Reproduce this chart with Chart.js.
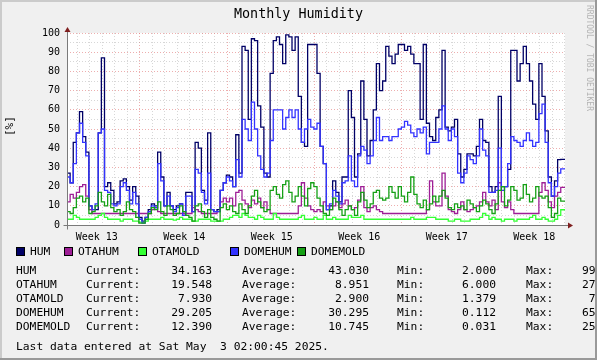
<!DOCTYPE html>
<html><head><meta charset="utf-8"><title>Monthly Humidity</title>
<script src="https://cdn.jsdelivr.net/npm/chart.js@4.4.1/dist/chart.umd.min.js"></script>
<style>
html,body{margin:0;padding:0;background:#f0f0f0;}
#root{position:relative;width:597px;height:360px;overflow:hidden;background:#f0f0f0;font-family:'DejaVu Sans Mono',monospace;color:#000;}
#c{position:absolute;left:0;top:0;}
.a{position:absolute;white-space:pre;}
.t{position:absolute;white-space:pre;font-size:11.3px;line-height:14px;}
.r{text-align:right;}
.sq{position:absolute;width:7px;height:7px;border:1px solid #000;}
.bd{position:absolute;}
</style></head>
<body><div id="root">
<canvas id="c" width="597" height="250"></canvas>
<div class="a" id="title" style="left:0;top:6px;width:597px;text-align:center;font-size:13.4px;line-height:16px;">Monthly Humidity</div>
<div class="a" style="left:2px;top:120px;width:16px;height:16px;font-size:11px;line-height:16px;transform:rotate(-90deg);text-align:center;">[%]</div>
<div class="a" style="left:535px;top:54px;width:108px;height:10px;font-size:8px;line-height:10px;color:#b4b4b4;transform:rotate(90deg);transform-origin:50% 50%;">RRDTOOL / TOBI OETIKER</div>
<div id="legend"></div>
<div class="bd" style="left:0;top:0;width:597px;height:2px;background:#cbcbcb;"></div>
<div class="bd" style="left:0;top:0;width:2px;height:360px;background:#cbcbcb;"></div>
<div class="bd" style="left:595px;top:0;width:2px;height:360px;background:#999;"></div>
<div class="bd" style="left:0;top:358px;width:597px;height:2px;background:#999;"></div>
</div>
<script>
// ---- data (6-hour steps, starting at left edge of graph) ----
const HUM = [
25,27,22,43,48,59,46,38,10,8,
8,48,87,20,22,18,11,12,23,24,
20,13,20,15,4,2,4,8,11,10,
38,25,10,17,10,8,10,11,6,17,
17,7,43,40,18,13,48,8,7,8,
18,22,26,25,20,47,27,93,91,55,
97,96,62,51,27,25,79,96,98,94,
84,99,98,91,98,67,43,41,94,94,
94,79,41,32,8,10,23,17,12,25,
25,70,56,25,37,75,55,36,44,60,
84,70,75,93,88,84,89,94,94,91,
93,89,84,84,55,94,53,46,44,56,
60,91,51,49,51,55,37,25,29,37,
37,36,41,55,44,43,20,17,20,67,
20,20,29,91,91,75,84,93,84,75,
63,55,84,67,49,25,15,23,34,34.163];
const OTAHUM = [
9,12,16,14,17,20,21,15,8,6,
6,6,6,6,6,6,6,6,6,6,
6,6,6,6,6,6,6,6,8,9,
7,6,6,6,6,6,6,6,6,6,
6,9,8,7,6,6,6,6,6,7,
12,14,12,14,10,17,18,13,11,9,
13,11,14,9,12,8,6,6,6,6,
6,6,6,6,6,10,22,14,10,8,
7,8,7,12,10,8,10,12,9,11,
13,10,8,9,13,20,9,7,9,10,
8,7,6,6,6,6,6,6,6,6,
6,6,6,6,6,6,8,23,12,10,
10,27,15,8,7,6,8,12,8,7,
8,9,10,12,17,12,10,13,8,22,
12,9,12,8,6,6,6,6,6,6,
6,6,17,22,18,12,9,15,17,19.548];
const OTAMOLD = [
4,3,3,5,4,3,3,3,3,3,
4,5,6,4,3,3,3,3,2,3,
3,3,2,2,1.5,1.4,2,3,3,3,
3,4,3,3,3,2.5,3,4,3,3,
3,2,2,3,3,3,3,2,2,2,
2,3,3,4,5,5,4,6,5,4,
4,3,5,4,3,3,3,6,4,3,
3,3,3,3,3,4,5,3,3,3,
4,3,3,5,3,3,4,3,3,3,
3,5,4,4,4,5,3,3,3,3,
3,3,3,3,3,3,3,3,3,3,
3,4,3,3,3,3,4,4,4,3,
3,3,3,2,2,3,3,2,2,2,
3,3,3,4,6,5,3,4,3,3,
2,3,3,3,2,3,3,3,3,4,
5,3,3,4,3,2,2,3,5,7.93];
const DOMEHUM = [
25,25,22,32,48,53,43,36,10,8,
11,48,50,18,17,11,10,11,20,22,
18,11,17,11,3,1,4,7,10,9,
32,23,10,15,10,7,9,11,5,15,
15,7,29,27,17,11,27,8,7,7,
18,22,25,23,20,34,25,55,50,44,
64,50,36,29,25,27,44,60,60,60,
50,56,60,56,60,50,43,50,55,51,
50,53,41,32,8,11,18,15,11,22,
23,36,23,20,36,41,39,32,36,44,
56,44,46,46,44,46,46,50,51,54,
52,48,46,50,48,51,37,43,43,43,
50,62,50,44,50,46,27,22,27,36,
34,32,36,50,39,36,17,17,18,40,
18,20,32,46,44,43,41,44,48,44,
41,43,58,63,43,22,15,20,27,29.205];
const DOMEMOLD = [
10,7,6,9,14,15,12,14,6,7,
10,17,12,10,16,9,7,8,5,7,
12,8,7,4,1,1,3,6,9,8,
12,7,5,10,8,5,6,10,7,5,
4,2,10,11,7,4,8,4,3,2,
9,11,8,10,7,6,11,8,6,10,
15,18,12,9,7,8,18,20,16,14,
21,23,17,12,15,20,15,10,19,22,
20,14,10,6,5,8,14,12,8,5,
8,10,8,5,12,17,13,9,11,17,
18,14,13,14,20,17,14,20,15,12,
17,25,16,11,9,13,8,11,15,12,
15,18,14,9,8,11,9,10,8,13,
11,9,7,10,13,11,8,6,11,18,
20,10,13,20,18,13,14,21,16,12,
14,20,15,14,15,9,4,6,14,12.39];

const SERIES_NAMES = ['HUM','OTAHUM','OTAMOLD','DOMEHUM','DOMEMOLD'];
const CURRENT = ['34.163','19.548','7.930','29.205','12.390'];
const AVERAGE = ['43.030','8.951','2.900','30.295','10.745'];
const MINIMUM = ['2.000','6.000','1.379','0.112','0.031'];
const MAXIMUM = ['99','27',' 7','65','25'];
const WEEK_LABELS = ['Week 13','Week 14','Week 15','Week 16','Week 17','Week 18'];
const Y_LABELS = ['0','10','20','30','40','50','60','70','80','90','100'];
const LAST_UPDATE = 'Last data entered at Sat May  3 02:00:45 2025.';

// ---- time axis (days from graph start) ----
const STEP_DAYS = 0.25;
const X_MAX = 39.84;
const FIRST_DAY = 0.8;
const FIRST_WEEK = 5.8;
const WEEK_LABEL_OFFSET = -3.42;

const COLORS = ['#000066','#9e1e96','#33ff33','#3333ff','#15a015'];
const FONT = "'DejaVu Sans Mono', monospace";
const MAJ = 'rgba(225,120,120,0.6)';
const MIN = 'rgba(160,160,160,0.42)';

const dayLines = [];
for (let d = FIRST_DAY; d < X_MAX; d += 1) dayLines.push(+d.toFixed(3));
const isWeek = v => Math.abs(((v - FIRST_WEEK) % 7 + 7) % 7) < 0.01;
const weekPos = WEEK_LABELS.map((_, i) => FIRST_WEEK + WEEK_LABEL_OFFSET + 7 * i);
const yTicks = []; for (let v = 0; v <= 100; v += 5) yTicks.push(v);

function pts(arr) {
  const p = arr.map((v, i) => ({x: i * STEP_DAYS, y: v}));
  p.push({x: X_MAX, y: arr[arr.length - 1]});
  return p;
}
const all = [HUM, OTAHUM, OTAMOLD, DOMEHUM, DOMEMOLD];
const datasets = all.map((arr, k) => ({
  label: SERIES_NAMES[k], data: pts(arr), borderColor: COLORS[k],
  borderWidth: 1.3, pointRadius: 0, stepped: 'after', fill: false,
  order: 5 - k, tension: 0
}));

const framePlugin = {
  id: 'framePlugin',
  beforeDraw(c) {
    const a = c.chartArea, g = c.ctx;
    g.save(); g.fillStyle = '#ffffff';
    g.fillRect(a.left, a.top, a.right - a.left, a.bottom - a.top);
    g.restore();
  },
  afterDatasetsDraw(c) {
    const a = c.chartArea, g = c.ctx;
    const x0 = Math.round(a.left) + 0.5, y0 = Math.round(a.bottom) + 0.5;
    g.save();
    g.strokeStyle = '#7a7a7a'; g.lineWidth = 1;
    g.beginPath();
    g.moveTo(x0, y0 + 4); g.lineTo(x0, a.top - 2);
    g.moveTo(x0 - 4, y0); g.lineTo(a.right + 3, y0);
    g.stroke();
    g.fillStyle = '#7f1f1f';
    g.beginPath();
    g.moveTo(x0 - 3, a.top - 1); g.lineTo(x0 + 3, a.top - 1); g.lineTo(x0, a.top - 6); g.closePath(); g.fill();
    g.beginPath();
    g.moveTo(a.right + 3, y0 - 3); g.lineTo(a.right + 3, y0 + 3); g.lineTo(a.right + 8, y0); g.closePath(); g.fill();
    g.restore();
  }
};

new Chart(document.getElementById('c'), {
  type: 'line',
  data: {datasets},
  options: {
    responsive: false, animation: false, devicePixelRatio: 1,
    layout: {padding: {left: 0, right: 32, top: 33, bottom: 5}},
    plugins: {legend: {display: false}, tooltip: {enabled: false}, title: {display: false}},
    scales: {
      x: {
        type: 'linear', min: 0, max: X_MAX, position: 'bottom',
        afterBuildTicks: s => { s.ticks = dayLines.map(v => ({value: v})); },
        ticks: {display: false},
        grid: {color: ctx => (ctx.tick && isWeek(ctx.tick.value)) ? MAJ : MIN, drawTicks: false, lineWidth: 1},
        border: {display: false, dash: [1, 2]},
        afterFit: s => { s.height = 0; }
      },
      xl: {
        type: 'linear', min: 0, max: X_MAX, position: 'bottom',
        afterBuildTicks: s => { s.ticks = weekPos.map(v => ({value: v})); },
        ticks: {callback: (v, i) => WEEK_LABELS[i], autoSkip: false, maxRotation: 0, padding: 6,
                font: {family: FONT, size: 10}, color: '#000'},
        grid: {display: false, drawTicks: false},
        border: {display: false},
        afterFit: s => { s.height = 20; }
      },
      y: {
        min: 0, max: 100,
        afterBuildTicks: s => { s.ticks = yTicks.map(v => ({value: v})); },
        ticks: {callback: v => (v % 10 === 0 ? Y_LABELS[v / 10] : ''), autoSkip: false, padding: 7,
                font: {family: FONT, size: 10}, color: '#000'},
        grid: {color: ctx => (ctx.tick && ctx.tick.value % 10 === 0) ? MAJ : MIN, drawTicks: false, lineWidth: 1},
        border: {display: false, dash: [1, 2]},
        afterFit: s => { s.width = 67; }
      }
    }
  },
  plugins: [framePlugin]
});

// ---- legend & statistics (text) ----
const L = document.getElementById('legend');
const SQ_X = [16, 64, 138, 230, 297];
function add(html, cls, style) {
  const d = document.createElement('div'); d.className = cls; d.setAttribute('style', style);
  d.textContent = html; L.appendChild(d); return d;
}
SERIES_NAMES.forEach((n, k) => {
  const s = document.createElement('div'); s.className = 'sq';
  s.setAttribute('style', `left:${SQ_X[k]}px;top:247px;background:${COLORS[k]};`);
  L.appendChild(s);
  add(n, 't', `left:${SQ_X[k] + 14}px;top:245px;`);
});
const ROW_Y = [264, 278, 292, 306, 320];
SERIES_NAMES.forEach((n, k) => {
  const y = ROW_Y[k];
  add(n, 't', `left:16px;top:${y}px;`);
  add('Current:', 't', `left:86px;top:${y}px;`);
  add(CURRENT[k], 't r', `left:132px;width:80px;top:${y}px;`);
  add('Average:', 't', `left:242px;top:${y}px;`);
  add(AVERAGE[k], 't r', `left:289px;width:80px;top:${y}px;`);
  add('Min:', 't', `left:397px;top:${y}px;`);
  add(MINIMUM[k], 't r', `left:416px;width:80px;top:${y}px;`);
  add('Max:', 't', `left:526px;top:${y}px;`);
  add(MAXIMUM[k], 't', `left:582px;top:${y}px;`);
});
add(LAST_UPDATE, 't', 'left:16px;top:340px;');
</script>
</body></html>
